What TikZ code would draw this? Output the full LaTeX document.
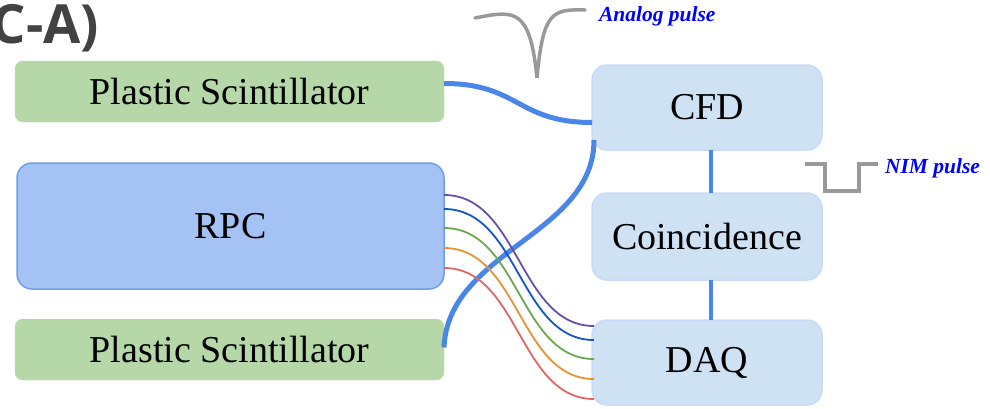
\documentclass[tikz,border=0pt]{standalone}
\usepackage{fontspec}
\setmainfont{Liberation Serif}
\newfontfamily\headfont{Open Sans}

\definecolor{scint}{HTML}{B6D7A8}
\definecolor{rpcfill}{HTML}{A4C2F4}
\definecolor{rpcline}{HTML}{6D9EEB}
\definecolor{modfill}{HTML}{CFE2F3}
\definecolor{modline}{HTML}{C9DAF8}
\definecolor{cable}{HTML}{4A86E8}
\definecolor{pulse}{HTML}{999999}
\definecolor{chpurple}{HTML}{674EA7}
\definecolor{chblue}{HTML}{1155CC}
\definecolor{chgreen}{HTML}{6AA84F}
\definecolor{chorange}{HTML}{E69138}
\definecolor{chred}{HTML}{E06666}

\begin{document}
\begin{tikzpicture}[x=1pt, y=-1pt,
    every node/.style={font=\fontsize{38}{40}\selectfont, inner sep=0pt, outer sep=0pt},
    detector/.style={fill=scint, draw=scint, rounded corners=8pt, minimum width=429pt, minimum height=61pt},
    chamber/.style={fill=rpcfill, draw=rpcline, line width=1.5pt, rounded corners=15pt, minimum width=427pt, minimum height=126pt},
    module/.style={fill=modfill, draw=modline, line width=1.5pt, rounded corners=15pt, minimum width=230pt, minimum height=85pt},
    thick cable/.style={cable, line width=5pt},
    wire/.style={line width=1.8pt},
    pulseline/.style={pulse, line width=3.5pt},
    pulselabel/.style={font=\fontsize{21.5}{24}\selectfont\bfseries\itshape, text=blue, anchor=west}]
  \useasboundingbox (0,0) rectangle (990,408);

  \node[font=\headfont\fontsize{54}{56}\selectfont\bfseries, text=black!74, anchor=base east] (title) at (99,43) {C-A)};

  % detectors
  \node[detector] (sa) at (229.5,91.5) {Plastic Scintillator};
  \node[chamber] (rpc) at (230.5,226) {RPC};
  \node[detector] (sb) at (229.5,349.5) {Plastic Scintillator};

  % electronics
  \node[module] (cfd) at (707,107.5) {CFD};
  \node[module, minimum height=87pt] (coin) at (707,236.5) {Coincidence};
  \node[module] (daq) at (707,362.5) {DAQ};

  \draw[cable, line width=4pt] ([xshift=4pt]cfd.south) -- ([xshift=4pt]coin.north);
  \draw[cable, line width=4pt] ([xshift=4pt]coin.south) -- ([xshift=4pt]daq.north);

  % scintillator cables
  \draw[thick cable] ([yshift=8pt]sa.east) .. controls +(75,0) and +(-75,0) .. ([yshift=-15pt]cfd.west);
  \draw[thick cable] ([yshift=2pt]sb.east) .. controls +(4,-97) and +(0,95) .. ([shift={(2pt,10pt)}]cfd.south west);

  % rpc strips
  \foreach \c/\dy in {chpurple/32, chblue/46, chgreen/65, chorange/85, chred/105}
    \draw[wire, \c] ([yshift=-\dy pt]rpc.north east) .. controls +(75,0) and +(-75,0) .. ([shift={(2pt,26pt-\dy pt)}]daq.north west);

  % pulse shapes
  \draw[pulseline, line cap=round] (475,18) .. controls (515,10) and (530,8) .. (537,78) .. controls (543,12) and (552,9) .. (585,10);
  \node[pulselabel] (analog) at (599,16) {Analog pulse};
  \draw[pulseline] (805,164) -- (825,164) -- (825,191) -- (859,191) -- (859,164) -- (878,164);
  \node[pulselabel] (nim) at (885,168) {NIM pulse};
\end{tikzpicture}
\end{document}
